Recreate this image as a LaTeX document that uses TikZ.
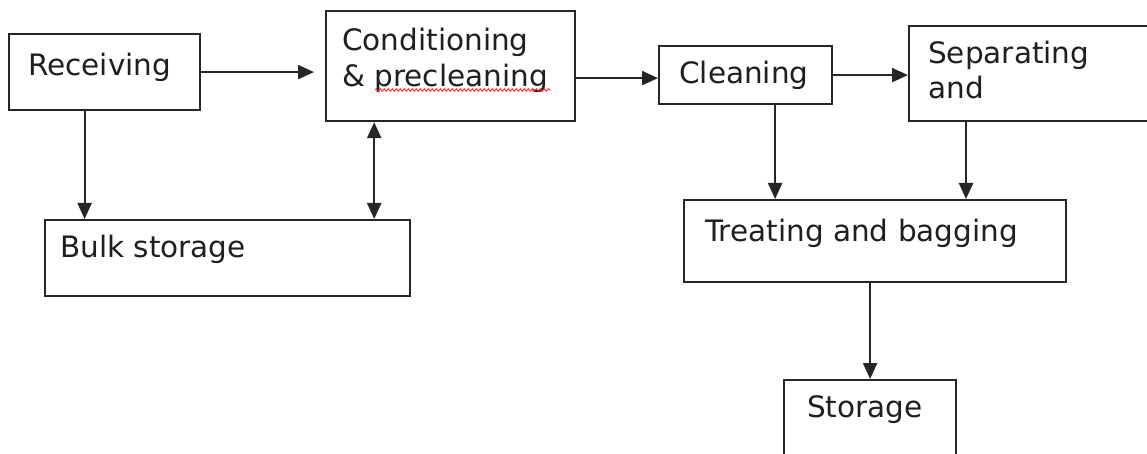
\documentclass[tikz,border=0pt]{standalone}
\usepackage{fontspec}
\setmainfont{DejaVu Sans}
\usetikzlibrary{arrows.meta,decorations.pathmorphing}
\begin{document}
\begin{tikzpicture}[x=1pt,y=-1pt,
  box/.style={draw=black!85, line width=2.2pt, inner sep=0pt, anchor=north west},
  lbl/.style={inner sep=0pt, anchor=base west, font=\fontsize{29.5}{36}\selectfont, text=black!88},
  tipshape/.tip={Triangle[length=16pt,width=14pt]},
  arr/.style={draw=black!85, line width=2.2pt, -tipshape},
  arrboth/.style={draw=black!85, line width=2.2pt, tipshape-tipshape},
  spell/.style={draw=red!85, line width=0.9pt, decorate, decoration={snake, amplitude=1.2pt, segment length=4pt}}]
\useasboundingbox (0,0) rectangle (1147,454);
\fill[white] (0,0) rectangle (1147,454);

% boxes
\node[box, minimum width=191pt, minimum height=76pt] (rec) at (8,33) {};
\node[box, minimum width=249pt, minimum height=110pt] (cond) at (325,10) {};
\node[box, minimum width=173pt, minimum height=58pt] (clean) at (658,45) {};
\node[box, minimum width=244pt, minimum height=95pt] (sep) at (908,25) {};
\node[box, minimum width=365pt, minimum height=76pt] (bulk) at (44,219) {};
\node[box, minimum width=382pt, minimum height=82pt] (treat) at (683,199) {};
\node[box, minimum width=172pt, minimum height=79pt] (stor) at (783,379) {};

% texts
\node[lbl] (recT) at (28,76) {Receiving};
\node[lbl] (condA) at (342,51) {Conditioning};
\node[lbl] (condB) at (342,87) {\& precleaning};
\node[lbl] (cleanT) at (679,84) {Cleaning};
\node[lbl] (sepA) at (928,64) {Separating};
\node[lbl] (sepB) at (928,99) {and};
\node[lbl] (bulkT) at (60,258) {Bulk storage};
\node[lbl] (treatT) at (705,241) {Treating and bagging};
\node[lbl] (storT) at (807,417) {Storage};

% spell-check underline
\draw[spell] (375,90) -- (551,90);

% connectors
\draw[arr, shorten >=11pt] (rec.east) -- (rec.east -| cond.west);
\coordinate (c1) at ([yshift=-3pt]clean.west);
\draw[arr] (c1 -| cond.east) -- (c1);
\draw[arr] (clean.east) -- (clean.east -| sep.west);
\coordinate (r1) at ([xshift=-20pt]rec.south);
\draw[arr] (r1) -- (r1 |- bulk.north);
\coordinate (d1) at ([xshift=-37pt]bulk.north east);
\draw[arrboth] (d1 |- cond.south) -- (d1);
\coordinate (c2) at ([xshift=29.5pt]clean.south);
\draw[arr] (c2) -- (c2 |- treat.north);
\coordinate (s1) at ([xshift=58pt]sep.south west);
\draw[arr] (s1) -- (s1 |- treat.north);
\draw[arr] (stor.north |- treat.south) -- (stor.north);
\end{tikzpicture}
\end{document}
